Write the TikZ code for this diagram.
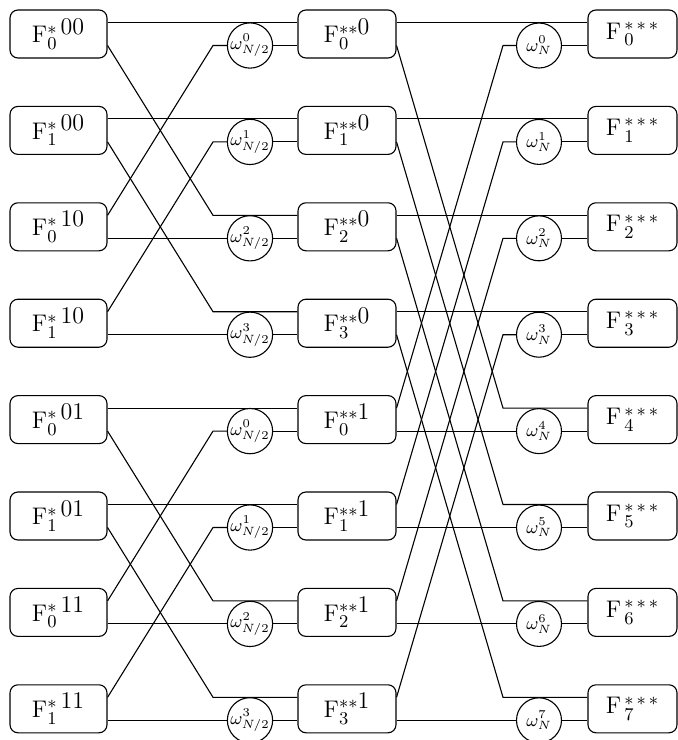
\documentclass[tikz,border=0pt]{standalone}
\usepackage{amsmath}
\usetikzlibrary{calc}

\begin{document}
\begin{tikzpicture}[x=0.5pt,y=-0.5pt,line width=0.55pt,
    fbox/.style={draw,rounded corners=4pt,minimum height=24pt,inner sep=0pt,font=\fontsize{12.5}{14}\selectfont},
    twid/.style={draw,circle,minimum size=22.5pt,inner sep=0pt,font=\fontsize{9}{10}\selectfont}]
  \useasboundingbox (0,0) rectangle (678,740);
  % boxes, twiddle factors and their ports
  \foreach \i in {0,...,7} {
    \pgfmathsetmacro{\yc}{34+96.4*\i}
    \pgfmathtruncatemacro{\j}{mod(\i,2)}
    \pgfmathtruncatemacro{\k}{mod(\i,4)}
    \pgfmathtruncatemacro{\h}{\k/2}
    \pgfmathtruncatemacro{\g}{\i/4}
    \node[fbox,minimum width=48.5pt] (L\i) at (58.5,\yc) {$\mathrm{F}^{{*}\textstyle\,\h\g}_{\scriptstyle\j}$};
    \node[fbox,minimum width=49pt] (M\i) at (347,\yc) {$\mathrm{F}^{{*}{*}\textstyle\g}_{\scriptstyle\k}$};
    \node[fbox,minimum width=44.5pt] (R\i) at (632.5,\yc) {$\mathrm{F}^{\,{*}\,{*}\,{*}}_{\scriptstyle\,\i}$};
    \node[twid] (wa\i) at (250,\yc+11.5) {$\omega^{\k}_{N/2}$};
    \node[twid] (wb\i) at (539,\yc+11.5) {$\omega^{\i}_{N}$};
    \coordinate (Lu\i) at ($(L\i.east)+(0,-11.5)$);
    \coordinate (Ld\i) at ($(L\i.east)+(0,11.5)$);
    \coordinate (Miu\i) at ($(M\i.west)+(0,-11.5)$);
    \coordinate (Mid\i) at ($(M\i.west)+(0,11.5)$);
    \coordinate (Mou\i) at ($(M\i.east)+(0,-11.5)$);
    \coordinate (Mod\i) at ($(M\i.east)+(0,11.5)$);
    \coordinate (Ru\i) at ($(R\i.west)+(0,-11.5)$);
    \coordinate (Rd\i) at ($(R\i.west)+(0,11.5)$);
  }
  \coordinate (xa) at (213,0);
  \coordinate (xb) at (503,0);
  % butterflies
  \foreach \i in {0,...,7} {
    \pgfmathtruncatemacro{\k}{mod(\i,4)}
    \pgfmathtruncatemacro{\n}{\i+2}
    \pgfmathtruncatemacro{\m}{\i-2}
    \pgfmathtruncatemacro{\p}{\i+4}
    \pgfmathtruncatemacro{\q}{\i-4}
    \ifnum\k<2
      \draw (Lu\i) -- (Miu\i);
      \draw (Ld\i) -- (xa |- Miu\n) -- (Miu\n);
    \else
      \draw (Lu\i) -- (xa |- wa\m) -- (wa\m);
      \draw (Ld\i) -- (wa\i);
    \fi
    \draw (wa\i) -- (Mid\i);
    \ifnum\i<4
      \draw (Mou\i) -- (Ru\i);
      \draw (Mod\i) -- (xb |- Ru\p) -- (Ru\p);
    \else
      \draw (Mou\i) -- (xb |- wb\q) -- (wb\q);
      \draw (Mod\i) -- (wb\i);
    \fi
    \draw (wb\i) -- (Rd\i);
  }
\end{tikzpicture}
\end{document}
